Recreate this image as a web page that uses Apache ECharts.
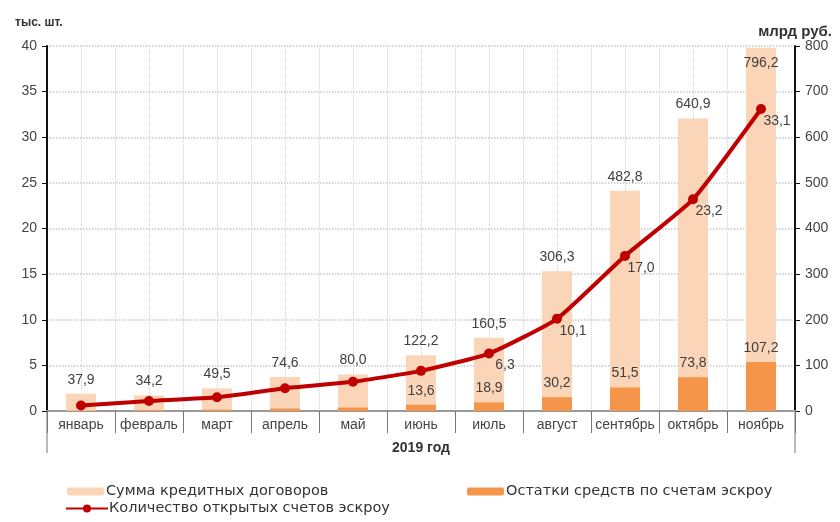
<!DOCTYPE html>
<html>
<head>
<meta charset="utf-8">
<script src="https://cdn.jsdelivr.net/npm/echarts@6/dist/echarts.min.js"></script>
<style>html,body{margin:0;padding:0;background:#fff}#c{width:840px;height:522px}</style>
</head>
<body>
<div id="c"></div>
<script>
const months = ['январь','февраль','март','апрель','май','июнь','июль','август','сентябрь','октябрь','ноябрь'];
const loanSum = [37.9, 34.2, 49.5, 74.6, 80.0, 122.2, 160.5, 306.3, 482.8, 640.9, 796.2];
const escrowBalance = [1.0, 2.0, 3.0, 5.5, 7.5, 13.6, 18.9, 30.2, 51.5, 73.8, 107.2];
const accountCount = [0.6, 1.1, 1.5, 2.5, 3.2, 4.4, 6.3, 10.1, 17.0, 23.2, 33.1];
const leftTicks = {min: 0, max: 40, interval: 5};
const rightTicks = {min: 0, max: 800, interval: 100};

const fmt = v => v.toFixed(1).replace('.', ',');
const font = 'Liberation Sans, Arial, sans-serif';
const legendFont = 'DejaVu Sans, sans-serif';
const labelColor = '#404040';

const chart = echarts.init(document.getElementById('c'));
const option = {
  backgroundColor: '#fff',
  animation: false,
  textStyle: {fontFamily: font},
  grid: {left: 47, right: 45, top: 46, bottom: 111},
  title: [
    {text: 'тыс. шт.', left: 10, top: 12, textStyle: {fontSize: 12, fontWeight: 'bold', color: '#333', fontFamily: font}},
    {text: 'млрд руб.', right: 3, top: 19, textStyle: {fontSize: 15, fontWeight: 'bold', color: '#333', fontFamily: font}}
  ],
  legend: [
    {data: ['Сумма кредитных договоров'], left: 62, top: 479, itemWidth: 37, itemHeight: 8, itemGap: 4,
     textStyle: {fontSize: 14.5, color: '#333', fontFamily: legendFont, padding: [0,0,0,-3]}},
    {data: ['Остатки средств по счетам эскроу'], left: 462, top: 479, itemWidth: 37, itemHeight: 8,
     textStyle: {fontSize: 14.5, color: '#333', fontFamily: legendFont, padding: [0,0,0,-3]}},
    {data: ['Количество открытых счетов эскроу'], left: 60, top: 496, itemWidth: 42, itemHeight: 10,
     textStyle: {fontSize: 14.5, color: '#333', fontFamily: legendFont, padding: [0,0,0,-4]}}
  ],
  xAxis: [
    {
      type: 'category', data: months, boundaryGap: true,
      axisLine: {lineStyle: {color: '#999', width: 1.5}},
      axisTick: {show: true, interval: 0, length: 22, lineStyle: {color: '#777', width: 1}},
      axisLabel: {interval: 0, fontSize: 14, color: '#444', margin: 7, fontFamily: font},
      splitLine: {show: false},
      name: '2019 год', nameLocation: 'middle', nameGap: 30,
      nameTextStyle: {fontSize: 14, fontWeight: 'bold', color: '#333', fontFamily: font}
    },
    {
      type: 'value', min: 0, max: 11, interval: 0.5, position: 'top',
      axisLine: {show: true, lineStyle: {color: '#999', width: 2}},
      axisTick: {show: false}, axisLabel: {show: false},
      splitLine: {show: true, lineStyle: {color: '#d4d4d4', type: 'dotted', width: 1}}
    }
  ],
  yAxis: [
    {
      type: 'value', min: leftTicks.min, max: leftTicks.max, interval: leftTicks.interval,
      axisLine: {show: true, lineStyle: {color: '#111', width: 2}},
      axisTick: {show: true, length: 5, lineStyle: {color: '#111'}},
      axisLabel: {fontSize: 14, color: '#444', margin: 10, fontFamily: font},
      splitLine: {show: true, lineStyle: {color: '#c8c8c8', type: 'dotted', width: 1.5}}
    },
    {
      type: 'value', min: rightTicks.min, max: rightTicks.max, interval: rightTicks.interval, position: 'right',
      axisLine: {show: true, lineStyle: {color: '#111', width: 2}},
      axisTick: {show: true, length: 5, lineStyle: {color: '#111'}},
      axisLabel: {fontSize: 14, color: '#444', margin: 10, fontFamily: font},
      splitLine: {show: false}
    }
  ],
  series: [
    {
      name: 'Сумма кредитных договоров', type: 'bar', yAxisIndex: 1, barWidth: 30,
      itemStyle: {color: '#FBD5B8'},
      data: loanSum.map((v, i) => ({value: v, label: i === loanSum.length - 1 ? {position: 'insideTop', distance: 8} : {}})),
      label: {show: true, position: 'top', distance: 7, fontSize: 14, color: labelColor, formatter: p => fmt(p.value), fontFamily: font},
      z: 2
    },
    {
      name: 'Остатки средств по счетам эскроу', type: 'bar', yAxisIndex: 1, barWidth: 30, barGap: '-100%',
      itemStyle: {color: '#F5954A'},
      data: escrowBalance,
      label: {show: true, position: 'top', distance: 7, fontSize: 14, color: labelColor, fontFamily: font,
              formatter: p => p.dataIndex >= 5 ? fmt(p.value) : ''},
      z: 3
    },
    {
      name: 'Количество открытых счетов эскроу', type: 'line', yAxisIndex: 0, smooth: 0.15,
      symbol: 'circle', symbolSize: 10,
      lineStyle: {color: '#C00000', width: 4},
      itemStyle: {color: '#C00000'},
      data: accountCount,
      label: {show: true, position: 'bottom', offset: [16, -2], distance: 2, fontSize: 14, color: labelColor, fontFamily: font,
              formatter: p => p.dataIndex >= 6 ? fmt(p.value) : ''},
      z: 5
    }
  ]
};
chart.setOption(option);

// extend outer dividers below the category axis
const xl = chart.convertToPixel({xAxisIndex: 1}, 0);
const xr = chart.convertToPixel({xAxisIndex: 1}, 11);
const y0 = chart.convertToPixel({yAxisIndex: 0}, 0);
chart.setOption({
  graphic: [
    {type: 'line', shape: {x1: xl, y1: y0, x2: xl, y2: y0 + 42}, style: {stroke: '#777', lineWidth: 1}},
    {type: 'line', shape: {x1: xr, y1: y0, x2: xr, y2: y0 + 42}, style: {stroke: '#777', lineWidth: 1}}
  ]
});
</script>
</body>
</html>
